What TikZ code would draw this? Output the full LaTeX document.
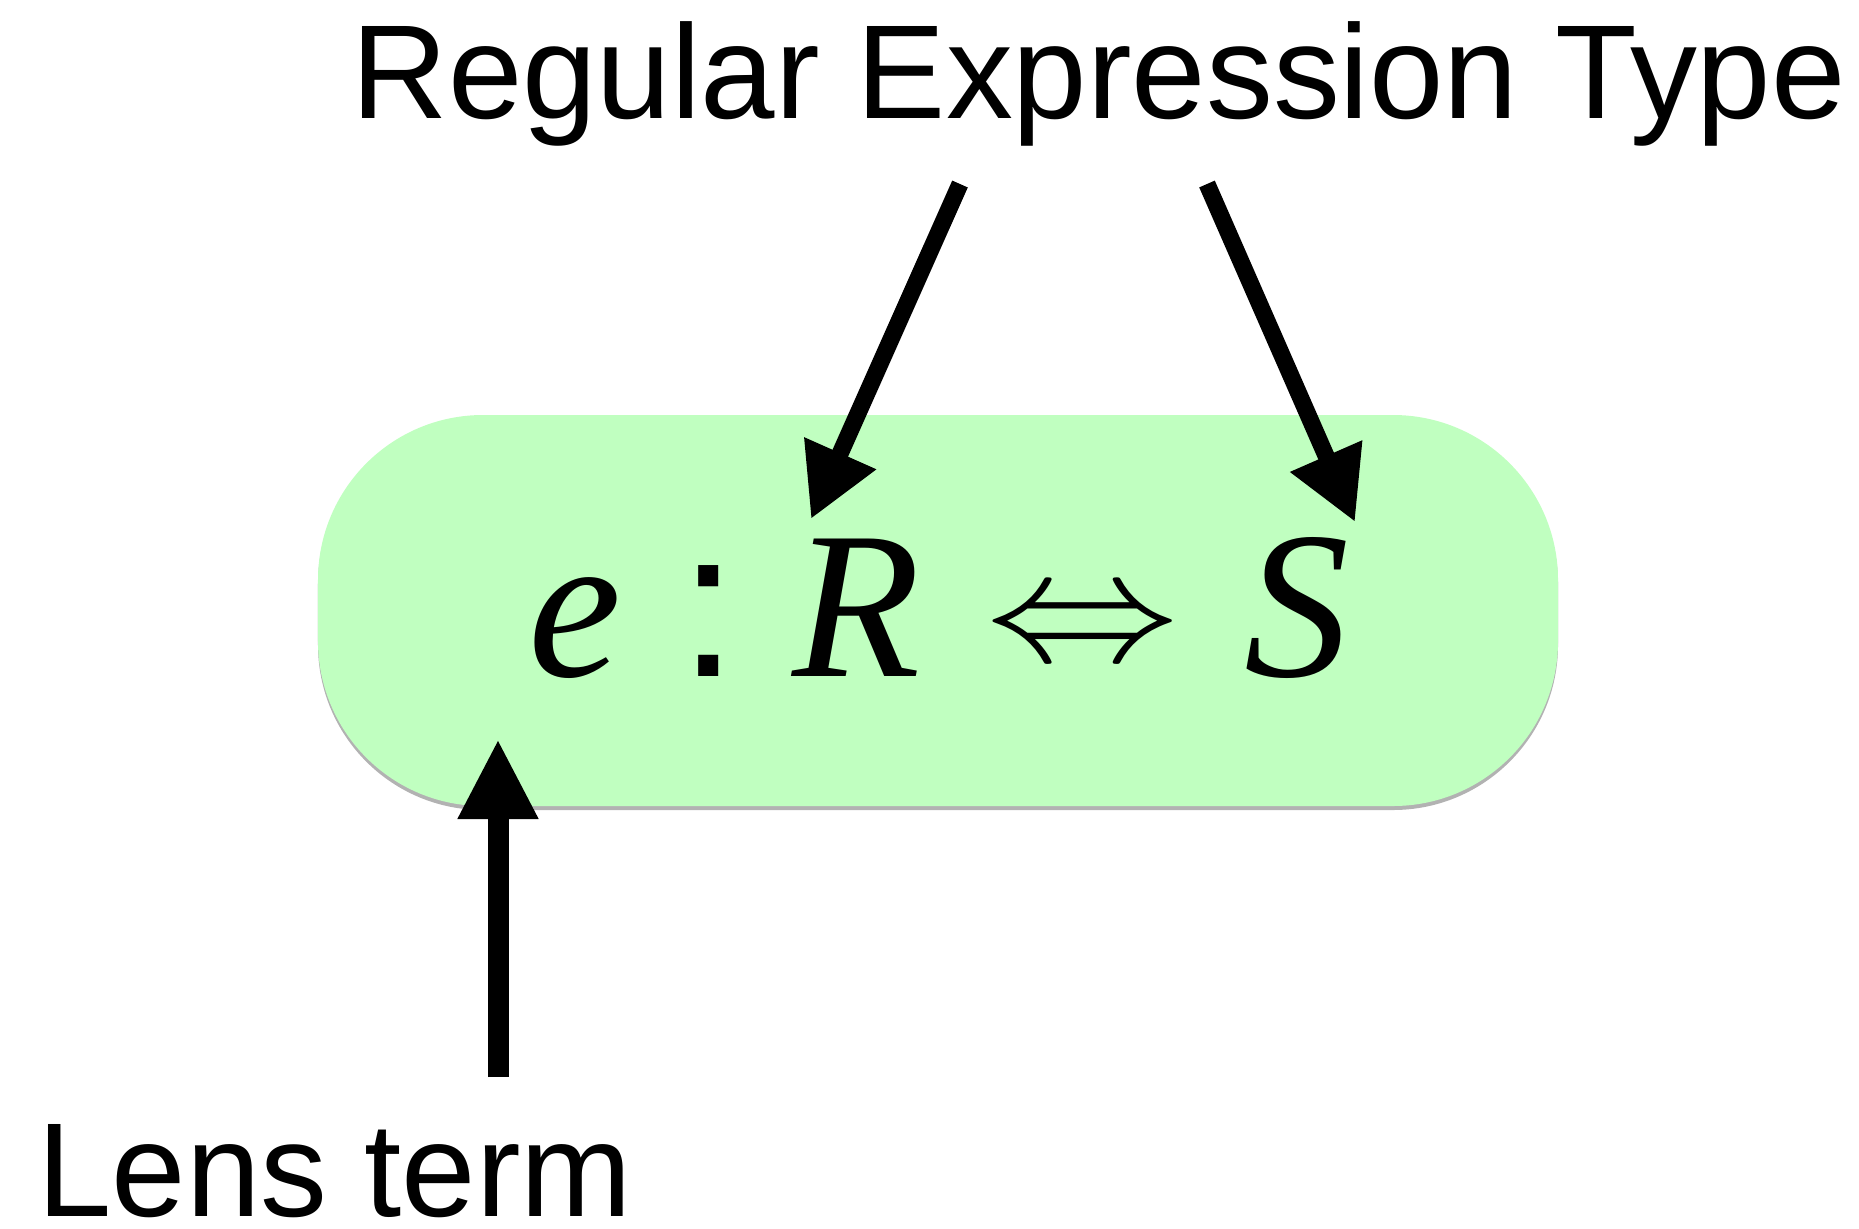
\documentclass[tikz,border=0pt]{standalone}
\usepackage{fontspec}
\usepackage{graphicx}
\setmainfont{Liberation Serif}
\newfontfamily\labelsans{Liberation Sans}
\usetikzlibrary{arrows.meta,shadows}
\definecolor{termgreen}{HTML}{C0FFC0}
\tikzset{
  lbl/.style={font=\labelsans\fontsize{53.5pt}{60pt}\selectfont, inner sep=0pt, anchor=base west},
  sym/.style={font=\fontsize{84pt}{90pt}\selectfont\itshape, inner sep=0pt, anchor=base west},
  termbox/.style={fill=termgreen, rounded corners=66pt, minimum width=496pt, minimum height=156.4pt,
    inner sep=0pt, drop shadow={shadow xshift=0pt, shadow yshift=-1.6pt, fill=black, opacity=0.3}},
  slantarr/.style={line width=6.8pt, -{Triangle[length=28.8pt, width=29.6pt]}},
  uparr/.style={line width=8.4pt, -{Triangle[length=32pt, width=30pt]}}
}
\begin{document}
\begin{tikzpicture}[x=0.4pt, y=-0.4pt]
\useasboundingbox (0,0) rectangle (1859,1228);
\node[termbox] (box) at (938,610.5) {};
\node[sym] (e) at (528,676) {e};
\node[sym, font=\labelsans\fontsize{84pt}{90pt}\selectfont] (colon) at (679,676) {:};
\node[sym] (R) at (792,676) {R};
\node[inner sep=0pt, font=\fontsize{10pt}{12pt}\selectfont] (iff) at (1083,632) {\scalebox{7.7}[6.3]{$\Leftrightarrow$}};
\node[sym] (S) at (1244,676) {S};
\node[lbl] (title) at (351,118.6) {Regular Expression Type};
\node[lbl] (lens) at (37,1216) {Lens term};
\coordinate (s1) at (960,184);
\coordinate (h1) at (811,519);
\coordinate (s2) at (1207,184);
\coordinate (h2) at (1355,522);
\coordinate (s3) at (498,1077);
\coordinate (h3) at (498,739);
\draw[slantarr] (s1) -- (h1);
\draw[slantarr] (s2) -- (h2);
\draw[uparr] (s3) -- (h3);
\end{tikzpicture}
\end{document}
